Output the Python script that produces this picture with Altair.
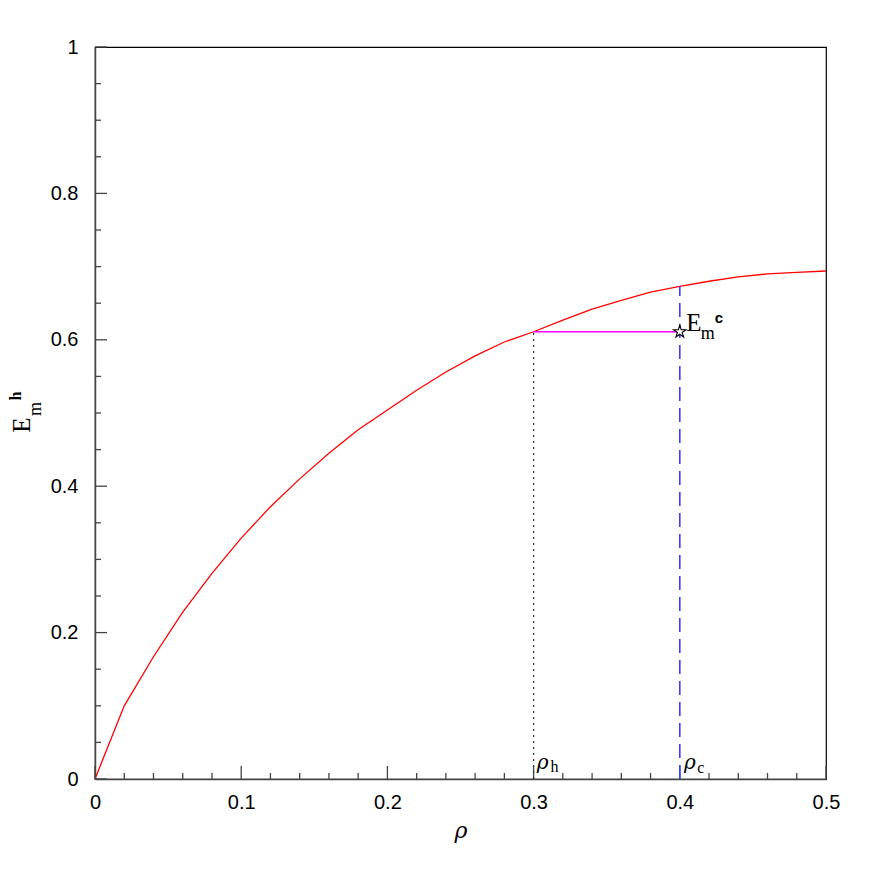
import altair as alt
import pandas as pd

# ---- data ----
rho = [0.0, 0.02, 0.04, 0.06, 0.08, 0.10, 0.12, 0.14, 0.16, 0.18, 0.20, 0.22, 0.24,
       0.26, 0.28, 0.30, 0.32, 0.34, 0.36, 0.38, 0.40, 0.42, 0.44, 0.46, 0.48, 0.50]
E_h = [0.0, 0.100, 0.167, 0.228, 0.281, 0.329, 0.372, 0.410, 0.445, 0.477, 0.504, 0.531, 0.556,
       0.578, 0.597, 0.611, 0.627, 0.642, 0.654, 0.665, 0.673, 0.680, 0.686, 0.690, 0.692, 0.694]

rho_h = 0.3
rho_c = 0.4
E_c = 0.611
E_curve_at_rho_c = 0.673

x_major = [0.0, 0.1, 0.2, 0.3, 0.4, 0.5]
x_minor = [0.02, 0.04, 0.06, 0.08, 0.12, 0.14, 0.16, 0.18, 0.22, 0.24, 0.26, 0.28,
           0.32, 0.34, 0.36, 0.38, 0.42, 0.44, 0.46, 0.48]
y_major = [0.0, 0.2, 0.4, 0.6, 0.8, 1.0]
y_minor = [0.05, 0.10, 0.15, 0.25, 0.30, 0.35, 0.45, 0.50, 0.55, 0.65, 0.70, 0.75,
           0.85, 0.90, 0.95]

W, H = 731, 732
AX = "#444444"
STAR = ("M0,-1L0.2245,-0.309L0.9511,-0.309L0.3633,0.118L0.5878,0.809L0,0.382"
        "L-0.5878,0.809L-0.3633,0.118L-0.9511,-0.309L-0.2245,-0.309Z")

xs = alt.Scale(domain=[0, 0.5], nice=False, zero=False)
ys = alt.Scale(domain=[0, 1], nice=False, zero=False)

xaxis = alt.Axis(values=x_major, format="~g", ticks=False, grid=False,
                 labelFont="Liberation Sans", labelFontSize=20, labelColor="black",
                 labelAlign="center", labelPadding=13, domainColor=AX, domainWidth=1.5,
                 titleFont="DejaVu Serif", titleFontStyle="italic",
                 titleFontWeight="normal", titleFontSize=22, titlePadding=8,
                 titleColor="black", orient="bottom")
yaxis = alt.Axis(values=y_major, format="~g", ticks=False, grid=False,
                 labelFont="Liberation Sans", labelFontSize=20, labelColor="black",
                 labelPadding=17, domainColor=AX, domainWidth=1.5,
                 orient="left")

def X(f):
    return alt.X(f, scale=xs, axis=xaxis, title="ρ")

def Y(f):
    return alt.Y(f, scale=ys, axis=yaxis, title=None)

curve = alt.Chart(pd.DataFrame({"rho": rho, "E": E_h})).mark_line(
    color="#ff0000", strokeWidth=1.3).encode(x=X("rho:Q"), y=Y("E:Q"))

# ticks (inside)
def vticks(vals, length):
    return alt.Chart(pd.DataFrame({"v": vals})).mark_rule(color=AX, strokeWidth=1.3).encode(
        x=X("v:Q"), y=alt.value(H), y2=alt.value(H - length))

def hticks(vals, length):
    return alt.Chart(pd.DataFrame({"v": vals})).mark_rule(color=AX, strokeWidth=1.3).encode(
        y=Y("v:Q"), x=alt.value(0), x2=alt.value(length))

hline = alt.Chart(pd.DataFrame({"x": [rho_h], "x2": [rho_c], "y": [E_c]})).mark_rule(
    color="#ff00ff", strokeWidth=1.5).encode(x=X("x:Q"), x2="x2:Q", y=Y("y:Q"))

vline_h = alt.Chart(pd.DataFrame({"x": [rho_h], "y": [0.0], "y2": [E_c]})).mark_rule(
    color="#333333", strokeWidth=1.3, strokeDash=[2, 4]).encode(
    x=X("x:Q"), y=Y("y:Q"), y2="y2:Q")

vline_c = alt.Chart(pd.DataFrame({"x": [rho_c], "y": [0.0], "y2": [E_curve_at_rho_c]})).mark_rule(
    color="#3d3dff", strokeWidth=1.6, strokeDash=[14, 7]).encode(
    x=X("x:Q"), y=Y("y:Q"), y2="y2:Q")

star = alt.Chart(pd.DataFrame({"x": [rho_c], "y": [E_c]})).mark_point(
    shape=STAR, size=170, filled=True, fill="white", stroke="black", strokeWidth=1.1,
    opacity=1).encode(x=X("x:Q"), y=Y("y:Q"))

def label(x, y, text, dx, dy, font, size, style="normal", weight="normal"):
    return alt.Chart(pd.DataFrame({"x": [x], "y": [y], "t": [text]})).mark_text(
        font=font, fontSize=size, fontStyle=style, fontWeight=weight, color="black",
        align="center", baseline="middle", dx=dx, dy=dy).encode(
        x=X("x:Q"), y=Y("y:Q"), text="t:N")

labels = [
    label(rho_c, E_c, "E", 14, -9, "Liberation Serif", 25),
    label(rho_c, E_c, "m", 28, 2, "Liberation Serif", 18),
    label(rho_c, E_c, "c", 39, -14, "Liberation Sans", 15, weight="bold"),
    label(rho_h, 0.0, "ρ", 9, -16, "DejaVu Serif", 20, style="italic"),
    label(rho_h, 0.0, "h", 21, -12, "Liberation Serif", 16),
    label(rho_c, 0.0, "ρ", 10, -16, "DejaVu Serif", 20, style="italic"),
    label(rho_c, 0.0, "c", 21, -11, "Liberation Serif", 16),
]

def ytitle(text, px, py, font, size, weight="normal"):
    return alt.Chart(pd.DataFrame({"t": [text]})).mark_text(
        font=font, fontSize=size, fontWeight=weight, color="black", angle=270,
        align="center", baseline="middle").encode(
        x=alt.value(px), y=alt.value(py), text="t:N")

ytitles = [
    ytitle("E", -73, 378, "Liberation Serif", 25),
    ytitle("m", -59, 362, "Liberation Serif", 18),
    ytitle("h", -79, 349, "Liberation Serif", 16, weight="bold"),
]

chart = alt.layer(
    curve, vticks(x_minor, 6), vticks(x_major, 13), hticks(y_minor, 6), hticks(y_major, 12),
    vline_h, vline_c, hline, star, *labels, *ytitles
).properties(
    width=W, height=H,
    autosize=alt.AutoSizeParams(type="none"),
    padding={"left": 87, "top": 39, "right": 38, "bottom": 85},
    background="white",
).configure_view(stroke="black", strokeWidth=1.2)

chart.save("out.html", embed_options={"renderer": "svg", "actions": False})
